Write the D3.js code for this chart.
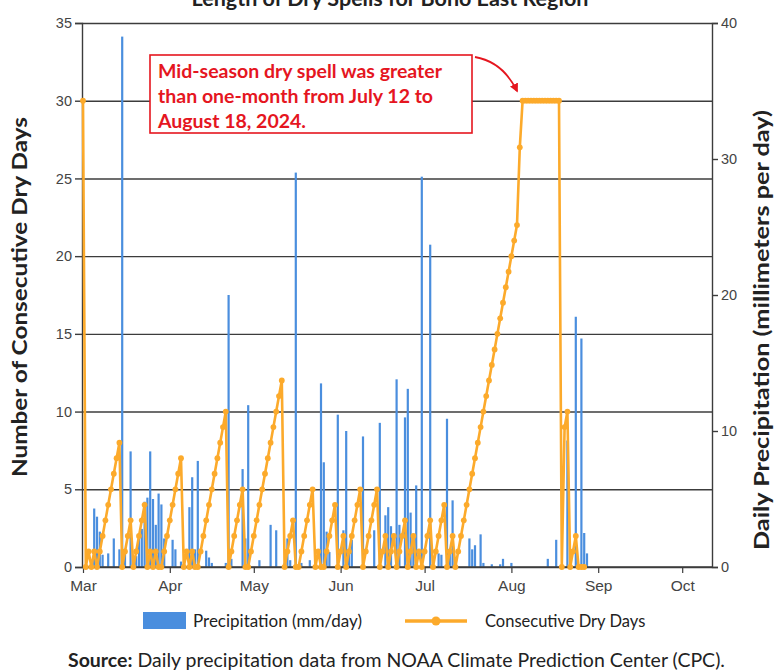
<!DOCTYPE html>
<html><head><meta charset="utf-8">
<script src="https://cdn.jsdelivr.net/npm/d3@7"></script>
<style>
body{margin:0;background:#fff;}
svg{display:block;}
</style></head>
<body>
<svg id="c" width="775" height="672"></svg>
<script>
// ---- DATA ----
const startDate = "2024-03-01";
const endDate = "2024-10-12";
const monthTicks = ["2024-03-01","2024-04-01","2024-05-01","2024-06-01","2024-07-01","2024-08-01","2024-09-01","2024-10-01"];
const monthLabels = ["Mar","Apr","May","Jun","Jul","Aug","Sep","Oct"];
const leftTicks = [0,5,10,15,20,25,30,35];
const rightTicks = [0,10,20,30,40];
// consecutive dry days, one value per day starting Mar 1
const dryDays = [30,0,1,0,1,0,1,2,3,4,5,6,7,8,0,1,2,3,0,1,2,3,4,0,1,0,1,0,0,1,
  2,3,4,5,6,7,0,1,0,1,0,0,1,2,3,4,5,6,7,8,9,10,0,1,2,3,4,5,0,0,
  1,2,3,4,5,6,7,8,9,10,11,12,0,1,2,3,0,0,1,2,3,4,5,0,1,0,0,1,2,3,
  4,0,1,2,0,1,2,3,4,5,0,1,2,3,4,5,0,1,2,0,1,2,0,1,2,3,0,1,2,0,
  1,0,1,2,3,0,1,2,3,4,0,1,2,0,1,2,3,4,5,6,7,8,9,10,11,12,13,14,15,16,
  17,18,19,20,21,22,27,30,30,30,30,30,30,30,30,30,30,30,30,30,30,0,9,10,0,1,
  2,0,0,0];
// daily precipitation (mm/day): day offset from Mar 1 and amount
const precipDay = [4,5,6,7,9,11,13,14,15,17,19,20,21,22,23,24,25,26,27,28,29,32,33,35,38,39,40,41,44,45,
  46,51,52,53,57,58,59,63,67,69,72,73,74,76,78,81,85,86,87,88,91,93,94,95,96,100,104,106,108,109,
  110,112,113,115,116,117,118,119,121,124,127,128,130,131,132,138,139,140,142,143,146,149,150,153,166,169,173,176,178,179,
  180];
const precipMm = [4.3,3.7,2.6,0.9,1.0,2.1,1.3,39,1.1,8.5,0.8,2.1,2.8,4.8,5.1,8.5,5.0,3.1,5.4,4.6,2.1,2.0,1.3,0.4,4.4,6.6,1.3,7.8,1.2,0.7,
  0.3,0.3,20,0.6,7.2,2.1,11.9,0.5,3.1,2.7,0.3,2.1,0.5,29,0.3,0.5,13.5,7.7,2.6,1.1,11.2,2.7,10.0,1.3,2.0,9.6,2.7,10.6,3.8,4.4,
  3.0,13.8,3.1,11.0,13.1,4.0,2.1,6.0,28.7,23.7,1.0,0.9,10.9,1.0,4.9,2.1,1.3,1.6,2.4,0.3,0.2,0.2,0.6,0.3,0.6,2.0,9.3,18.4,16.8,2.5,
  1.0];
const titleText = "Length of Dry Spells for Bono East Region";
const noteLines = ["Mid-season dry spell was greater","than one-month from July 12 to","August 18, 2024."];

// ---- CHART ----
const svg = d3.select("#c");
const L=82, R=712, T=23, B=567;
const parse = d3.utcParse("%Y-%m-%d");
const t0 = parse(startDate);
const dayDate = i => d3.utcDay.offset(t0, i);
const x = d3.scaleUtc().domain([t0, parse(endDate)]).range([L+1,R+1]);
const yL = d3.scaleLinear().domain([0,35]).range([B,T]);
const yR = d3.scaleLinear().domain([0,40]).range([B,T]);
const ORANGE = "#fcaa2b", BLUE = "#4a8ede", RED = "#e5161f", GRID="#3c3c3c";
const tickFont = "'Liberation Sans', Arial, sans-serif";
const labFont = "Lato, 'Open Sans', sans-serif";

svg.append("text").attr("x",390).attr("y",6).attr("text-anchor","middle")
  .attr("font-family",labFont).attr("font-weight","bold").attr("font-size",21.5).attr("fill","#222").text(titleText);

// gridlines (left axis)
const gl = d3.axisLeft(yL).tickValues(leftTicks).tickSize(-(R-L)).tickFormat("");
svg.append("g").attr("transform",`translate(${L},0)`).call(gl)
  .call(g=>g.select(".domain").remove())
  .call(g=>g.selectAll("line").attr("stroke",GRID).attr("stroke-width",1.4));

// left axis
svg.append("g").attr("transform",`translate(${L},0)`)
  .call(d3.axisLeft(yL).tickValues(leftTicks).tickSize(7).tickPadding(3))
  .call(g=>g.select(".domain").attr("stroke",GRID).attr("stroke-width",1.4))
  .call(g=>g.selectAll("line").attr("stroke",GRID).attr("stroke-width",1.4))
  .call(g=>g.selectAll("text").attr("font-family",tickFont).attr("font-size",14.5).attr("fill","#444"));
// right axis
svg.append("g").attr("transform",`translate(${R},0)`)
  .call(d3.axisRight(yR).tickValues(rightTicks).tickSize(6).tickPadding(3))
  .call(g=>g.select(".domain").attr("stroke",GRID).attr("stroke-width",1.4))
  .call(g=>g.selectAll("line").attr("stroke",GRID).attr("stroke-width",1.4))
  .call(g=>g.selectAll("text").attr("font-family",tickFont).attr("font-size",14.5).attr("fill","#444"));

// bars
svg.append("g").selectAll("rect").data(precipDay.map((d,i)=>({d, v:precipMm[i]}))).join("rect")
  .attr("x",d=>x(dayDate(d.d))-1.1).attr("width",2.2)
  .attr("y",d=>yR(d.v)).attr("height",d=>B-yR(d.v)).attr("fill",BLUE);

// bottom axis
svg.append("g").attr("transform",`translate(0,${B})`)
  .call(d3.axisBottom(x).tickValues(monthTicks.map(parse)).tickFormat((d,i)=>monthLabels[i]).tickSize(6).tickPadding(7))
  .call(g=>g.select(".domain").remove())
  .call(g=>g.selectAll("line").attr("stroke",GRID).attr("stroke-width",1.2))
  .call(g=>g.selectAll("text").attr("font-family",tickFont).attr("font-size",15.5).attr("fill","#444"));
svg.append("line").attr("x1",L).attr("x2",R).attr("y1",B).attr("y2",B).attr("stroke",GRID).attr("stroke-width",1.6);

// dry days line
const line = d3.line().x((d,i)=>x(dayDate(i))).y(d=>yL(d));
svg.append("path").datum(dryDays).attr("d",line).attr("fill","none")
  .attr("stroke",ORANGE).attr("stroke-width",2.6).attr("stroke-linejoin","round");
svg.append("g").selectAll("circle").data(dryDays).join("circle")
  .attr("cx",(d,i)=>x(dayDate(i))).attr("cy",d=>yL(d)).attr("r",2.9).attr("fill",ORANGE);

// annotation
svg.append("rect").attr("x",150).attr("y",55).attr("width",322).attr("height",78)
  .attr("fill","#fff").attr("stroke",RED).attr("stroke-width",1.6);
noteLines.forEach((s,i)=>svg.append("text").attr("x",158).attr("y",78+i*25)
  .attr("font-family",labFont).attr("font-weight","bold").attr("font-size",19.5).attr("fill",RED).text(s));
svg.append("defs").append("marker").attr("id","ah").attr("viewBox","0 0 10 10").attr("refX",8).attr("refY",5)
  .attr("markerWidth",5).attr("markerHeight",5).attr("orient","auto")
  .append("path").attr("d","M0,0L10,5L0,10z").attr("fill",RED);
svg.append("path").attr("d","M475,57 Q503,62 517,91").attr("fill","none").attr("stroke",RED)
  .attr("stroke-width",1.8).attr("marker-end","url(#ah)");

// axis titles
svg.append("text").attr("transform","translate(27,297) rotate(-90)").attr("text-anchor","middle")
  .attr("font-family",labFont).attr("font-weight","bold").attr("font-size",21).attr("fill","#222")
  .attr("textLength",360).attr("lengthAdjust","spacingAndGlyphs")
  .text("Number of Consecutive Dry Days");
svg.append("text").attr("transform","translate(769,330) rotate(-90)").attr("text-anchor","middle")
  .attr("font-family",labFont).attr("font-weight","bold").attr("font-size",20).attr("fill","#222")
  .attr("textLength",440).attr("lengthAdjust","spacingAndGlyphs")
  .text("Daily Precipitation (millimeters per day)");

// legend
svg.append("rect").attr("x",143).attr("y",612).attr("width",43).attr("height",17).attr("fill",BLUE);
svg.append("text").attr("x",193).attr("y",627).attr("font-family",labFont).attr("font-size",17).attr("fill","#222").text("Precipitation (mm/day)");
svg.append("line").attr("x1",405).attr("x2",467).attr("y1",621).attr("y2",621).attr("stroke",ORANGE).attr("stroke-width",3.5);
svg.append("circle").attr("cx",436).attr("cy",621).attr("r",4.5).attr("fill",ORANGE);
svg.append("text").attr("x",485).attr("y",627).attr("font-family",labFont).attr("font-size",16.5).attr("fill","#222").text("Consecutive Dry Days");

// footer
const ft = svg.append("text").attr("x",68).attr("y",667).attr("font-family",labFont).attr("font-size",19.5).attr("fill","#222");
ft.append("tspan").attr("font-weight","bold").text("Source:");
ft.append("tspan").text(" Daily precipitation data from NOAA Climate Prediction Center (CPC).");
</script>
</body></html>
